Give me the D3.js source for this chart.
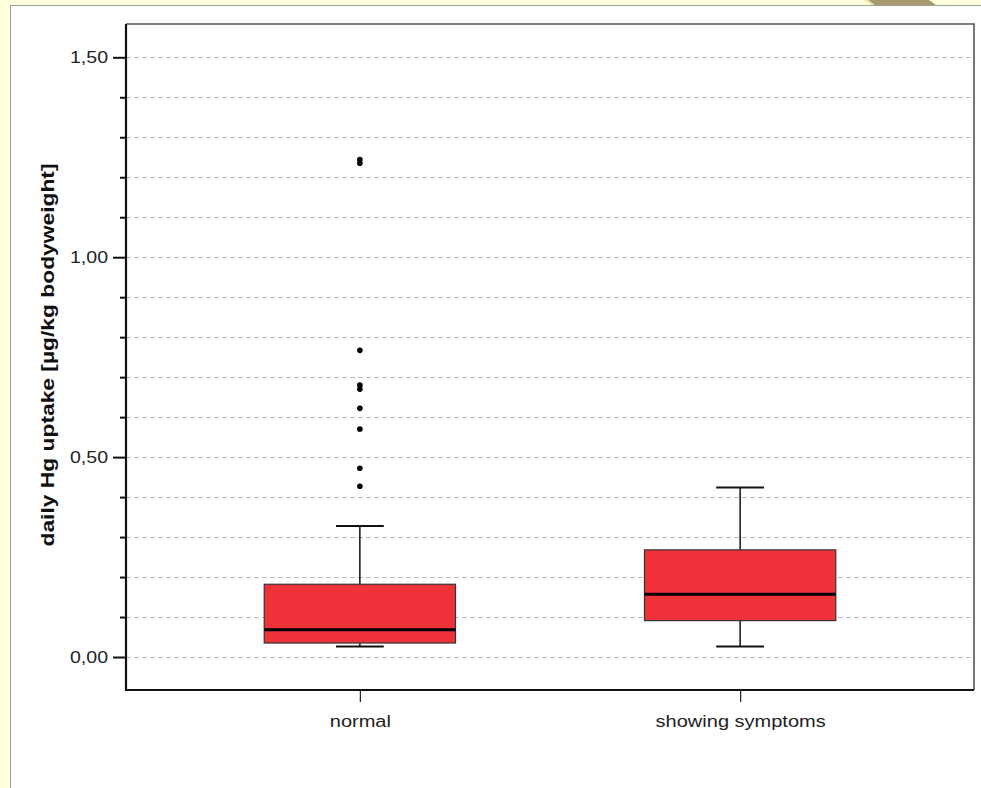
<!DOCTYPE html>
<html>
<head>
<meta charset="utf-8">
<script src="https://cdn.jsdelivr.net/npm/d3@7"></script>
<style>
  html, body { margin: 0; padding: 0; background: #ffffdc; }
  svg { display: block; }
</style>
</head>
<body>
<svg id="chart" width="981" height="788"></svg>
<script>
// Groups and their five-number summaries (µg/kg bodyweight per day)
const groups = ["normal", "showing symptoms"];
const whiskerLow = [0.026, 0.026];
const q1 = [0.035, 0.091];
const median = [0.068, 0.157];
const q3 = [0.182, 0.268];
const whiskerHigh = [0.328, 0.424];
// Outliers beyond the whiskers
const outliersNormal = [0.427, 0.472, 0.570, 0.622, 0.670, 0.680, 0.767, 1.235, 1.244];
const outliersSymptoms = [];
const outliers = [outliersNormal, outliersSymptoms];
const majorTicks = [0, 0.5, 1.0, 1.5];
const minorTicks = [0, 0.1, 0.2, 0.3, 0.4, 0.5, 0.6, 0.7, 0.8, 0.9, 1.0, 1.1, 1.2, 1.3, 1.4, 1.5];
const yTitle = "daily Hg uptake [µg/kg bodyweight]";

const svg = d3.select("#chart");
const W = 981, H = 788;
const FONT = "Liberation Sans, Arial, sans-serif";

// widen text horizontally by a factor, keeping its anchor
function widen(sel, factor) {
  sel.each(function () {
    const w = this.getComputedTextLength();
    d3.select(this).attr("textLength", w * factor).attr("lengthAdjust", "spacingAndGlyphs");
  });
}

// page panel
svg.append("rect").attr("x", 0).attr("y", 0).attr("width", W).attr("height", H).attr("fill", "#ffffdc");
svg.append("rect").attr("x", 10.5).attr("y", 5.5).attr("width", W).attr("height", H)
  .attr("fill", "#ffffff").attr("stroke", "#a0a0a0").attr("stroke-width", 1);
// folded corner
svg.append("polygon").attr("points", "866,0 929,0 936,5 873,5").attr("fill", "#a89c6e");
svg.append("polygon").attr("points", "864,0 868,0 875,5 871,5").attr("fill", "#f3e6b8");

const plot = { left: 126, right: 974, top: 24, bottom: 690 };

const y = d3.scaleLinear().domain([-0.0825, 1.5833]).range([plot.bottom, plot.top]);
const x = d3.scalePoint().domain(groups).range([plot.left, plot.right]).padding(0.615);
const step = x.step();
const boxW = step * 0.503;
const capW = boxW * 0.25;

const fmt = v => d3.format(".2f")(v).replace(".", ",");

// gridlines
svg.append("g").selectAll("line").data(minorTicks).join("line")
  .attr("x1", plot.left).attr("x2", plot.right)
  .attr("y1", d => Math.round(y(d)) + 0.5).attr("y2", d => Math.round(y(d)) + 0.5)
  .attr("stroke", "#b8b8b8").attr("stroke-width", 1).attr("stroke-dasharray", "5,3");

// frame top/right
svg.append("path")
  .attr("d", `M${plot.left},${plot.top}H${plot.right}V${plot.bottom}`)
  .attr("fill", "none").attr("stroke", "#555").attr("stroke-width", 1.6);

// y axis
const yAxis = d3.axisLeft(y).tickValues(majorTicks).tickSize(13).tickPadding(5).tickFormat(fmt);
const gy = svg.append("g").attr("transform", `translate(${plot.left},0)`).call(yAxis);
gy.select(".domain").remove();
gy.selectAll(".tick line").attr("stroke", "#111").attr("stroke-width", 2);
gy.selectAll(".tick text").attr("font-family", FONT)
  .attr("font-size", 17).attr("fill", "#222").call(widen, 1.15);
const yMinor = d3.axisLeft(y).tickValues(minorTicks.filter(v => !majorTicks.some(m => Math.abs(m - v) < 1e-9)))
  .tickSize(6).tickFormat("");
const gym = svg.append("g").attr("transform", `translate(${plot.left},0)`).call(yMinor);
gym.select(".domain").remove();
gym.selectAll(".tick line").attr("stroke", "#111").attr("stroke-width", 2);

// x axis
const xAxis = d3.axisBottom(x).tickSize(12).tickPadding(14);
const gx = svg.append("g").attr("transform", `translate(0,${plot.bottom})`).call(xAxis);
gx.select(".domain").remove();
gx.selectAll(".tick line").attr("stroke", "#222").attr("stroke-width", 1.2);
gx.selectAll(".tick text").attr("font-family", FONT)
  .attr("font-size", 16).attr("fill", "#222").call(widen, 1.25);

// axis lines left/bottom
svg.append("path")
  .attr("d", `M${plot.left},${plot.top}V${plot.bottom}H${plot.right}`)
  .attr("fill", "none").attr("stroke", "#111").attr("stroke-width", 2.2);

// y title
svg.append("text")
  .attr("transform", `translate(54,${(plot.top + plot.bottom) / 2 - 2}) rotate(-90)`)
  .attr("text-anchor", "middle")
  .attr("font-family", FONT)
  .attr("font-weight", "bold").attr("font-size", 19).attr("fill", "#111")
  .text(yTitle)
  .call(widen, 1.2);

// boxes
const boxes = svg.append("g").selectAll("g").data(groups).join("g");
boxes.each(function (g, i) {
  const cx = x(g);
  const sel = d3.select(this);
  // whiskers
  sel.append("line").attr("x1", cx).attr("x2", cx).attr("y1", y(whiskerHigh[i])).attr("y2", y(q3[i]))
    .attr("stroke", "#111").attr("stroke-width", 1.5);
  sel.append("line").attr("x1", cx).attr("x2", cx).attr("y1", y(q1[i])).attr("y2", y(whiskerLow[i]))
    .attr("stroke", "#111").attr("stroke-width", 1.5);
  sel.append("line").attr("x1", cx - capW / 2).attr("x2", cx + capW / 2)
    .attr("y1", y(whiskerHigh[i])).attr("y2", y(whiskerHigh[i]))
    .attr("stroke", "#111").attr("stroke-width", 2);
  sel.append("line").attr("x1", cx - capW / 2).attr("x2", cx + capW / 2)
    .attr("y1", y(whiskerLow[i])).attr("y2", y(whiskerLow[i]))
    .attr("stroke", "#111").attr("stroke-width", 2);
  // box
  sel.append("rect").attr("x", cx - boxW / 2).attr("width", boxW)
    .attr("y", y(q3[i])).attr("height", y(q1[i]) - y(q3[i]))
    .attr("fill", "#ef323a").attr("stroke", "#333").attr("stroke-width", 1.2);
  // median
  sel.append("line").attr("x1", cx - boxW / 2).attr("x2", cx + boxW / 2)
    .attr("y1", y(median[i])).attr("y2", y(median[i]))
    .attr("stroke", "#000").attr("stroke-width", 3);
  // outliers
  sel.selectAll("circle").data(outliers[i]).join("circle")
    .attr("cx", cx).attr("cy", d => y(d)).attr("r", 2.8).attr("fill", "#000");
});
</script>
</body>
</html>
